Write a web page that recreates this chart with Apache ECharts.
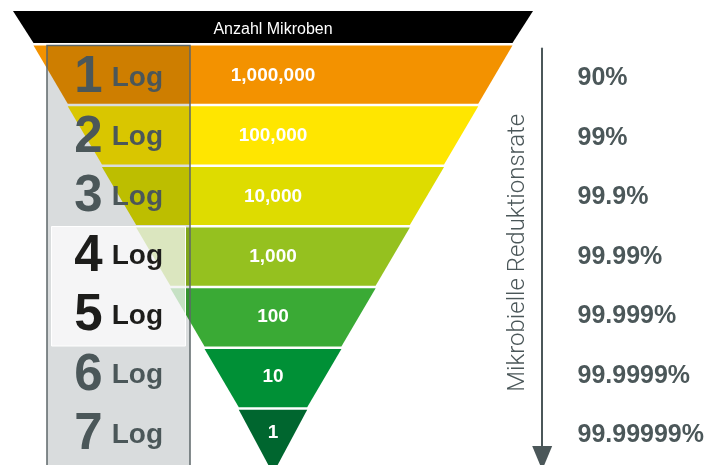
<!DOCTYPE html>
<html>
<head>
<meta charset="utf-8">
<script src="https://cdn.jsdelivr.net/npm/echarts@6/dist/echarts.min.js"></script>
<style>
  html, body { margin: 0; padding: 0; background: #fff; }
  #chart { width: 707px; height: 465px; }
</style>
</head>
<body>
<div id="chart"></div>
<script>
// --- data ---
const headerLabel = 'Anzahl Mikroben';
const microbes = [1000000, 100000, 10000, 1000, 100, 10, 1];
const logSteps = ['1 Log', '2 Log', '3 Log', '4 Log', '5 Log', '6 Log', '7 Log'];
const reductionRates = ['90%', '99%', '99.9%', '99.99%', '99.999%', '99.9999%', '99.99999%'];
const highlightedSteps = ['4 Log', '5 Log'];
const axisTitle = 'Mikrobielle Reduktionsrate';
const headerWidth = 7.6; // header band width, in the same units as log10(count) + 1

// --- styles ---
const FONT = '"Liberation Sans", Arial, sans-serif';
const GREY = '#4b5759';
const DARK = '#1d1d1b';
const bandColors = ['#000000', '#f39200', '#ffe600', '#dedc00', '#95c11f', '#3aaa35', '#009036', '#00662f'];
const bandHeights = [32, 58.2, 58.2, 58.2, 58.2, 58.2, 58.2, 64];

// funnel widths: header, then log10(count) + 1 for each band
const funnelValues = [headerWidth].concat(microbes.map(m => Math.round(Math.log10(m)) + 1));

// move each label to the centroid of its trapezoid (plus a small nudge down)
const labelShift = funnelValues.map((a, i) => {
  const b = funnelValues[i + 1] || 0;
  return bandHeights[i] * ((a + 2 * b) / (3 * (a + b)) - 0.5) + (i === 0 ? 3 : 1.5);
});

const funnelData = funnelValues.map((v, i) => {
  const item = {
    value: v,
    name: i === 0 ? headerLabel : microbes[i - 1].toLocaleString('en-US'),
    itemStyle: { color: bandColors[i], height: bandHeights[i] }
  };
  if (i === 0) {
    item.label = { fontSize: 16, fontWeight: 'normal' };
  }
  return item;
});

const chart = echarts.init(document.getElementById('chart'));

const option = {
  animation: false,
  backgroundColor: '#fff',
  grid: { left: 170, top: 48.5, width: 372.7, height: 424.9 },
  xAxis: { type: 'value', show: false },
  yAxis: [
    {
      type: 'category',
      inverse: true,
      position: 'left',
      data: logSteps,
      z: 20,
      axisLine: { show: false, onZero: false },
      axisTick: { show: false },
      splitLine: { show: false },
      axisLabel: {
        margin: 7,
        formatter: (val) => {
          const n = val.split(' ')[0];
          return highlightedSteps.includes(val) ? `{nd|${n}}{ld|Log}` : `{n|${n}}{l|Log}`;
        },
        rich: {
          n: { fontFamily: FONT, fontSize: 51, fontWeight: 'bold', color: GREY, padding: [0, 9, 0, 0] },
          l: { fontFamily: FONT, fontSize: 28, fontWeight: 'bold', color: GREY },
          nd: { fontFamily: FONT, fontSize: 51, fontWeight: 'bold', color: DARK, padding: [0, 9, 0, 0] },
          ld: { fontFamily: FONT, fontSize: 28, fontWeight: 'bold', color: DARK }
        }
      }
    },
    {
      type: 'category',
      inverse: true,
      position: 'right',
      data: reductionRates,
      z: 20,
      name: axisTitle,
      nameLocation: 'middle',
      nameRotate: 90,
      nameGap: -36,
      nameTextStyle: { fontFamily: 'Roboto, ' + FONT, fontWeight: 300, fontSize: 24, color: GREY, padding: [0, 0, 0, 8] },
      axisLine: {
        show: true,
        onZero: false,
        symbol: ['triangle', 'none'],
        symbolSize: [20, 24],
        symbolOffset: [7, 0],
        lineStyle: { color: GREY, width: 2 }
      },
      axisTick: { show: false },
      splitLine: { show: false },
      axisLabel: { margin: 35.3, fontFamily: FONT, fontSize: 25, fontWeight: 'bold', color: GREY }
    }
  ],
  series: [
    {
      type: 'funnel',
      sort: 'none',
      left: 13,
      top: 11,
      width: 520,
      height: 463,
      min: 0,
      max: headerWidth,
      minSize: '0%',
      maxSize: '100%',
      gap: 2.5,
      z: 2,
      itemStyle: { borderWidth: 0 },
      label: {
        show: true,
        position: 'inside',
        color: '#fff',
        fontFamily: FONT,
        fontSize: 19,
        fontWeight: 'bold',
        textBorderWidth: 0
      },
      labelLine: { show: false },
      labelLayout: (p) => ({ dy: labelShift[p.dataIndex] }),
      emphasis: { disabled: true },
      data: funnelData
    }
  ],
  graphic: [
    {
      type: 'rect',
      z: 10,
      shape: { x: 47, y: 45.5, width: 143, height: 440 },
      style: { fill: '#d9dcdd', blend: 'multiply' }
    },
    {
      type: 'rect',
      z: 11,
      shape: { x: 51.5, y: 226.5, width: 134, height: 119.5 },
      style: { fill: 'rgba(255,255,255,0.72)', stroke: '#fff', lineWidth: 1 }
    },
    {
      type: 'rect',
      z: 12,
      shape: { x: 47, y: 45.5, width: 143, height: 440 },
      style: { fill: 'none', stroke: '#5d6769', lineWidth: 1.5 }
    }
  ]
};

chart.setOption(option);
</script>
</body>
</html>
